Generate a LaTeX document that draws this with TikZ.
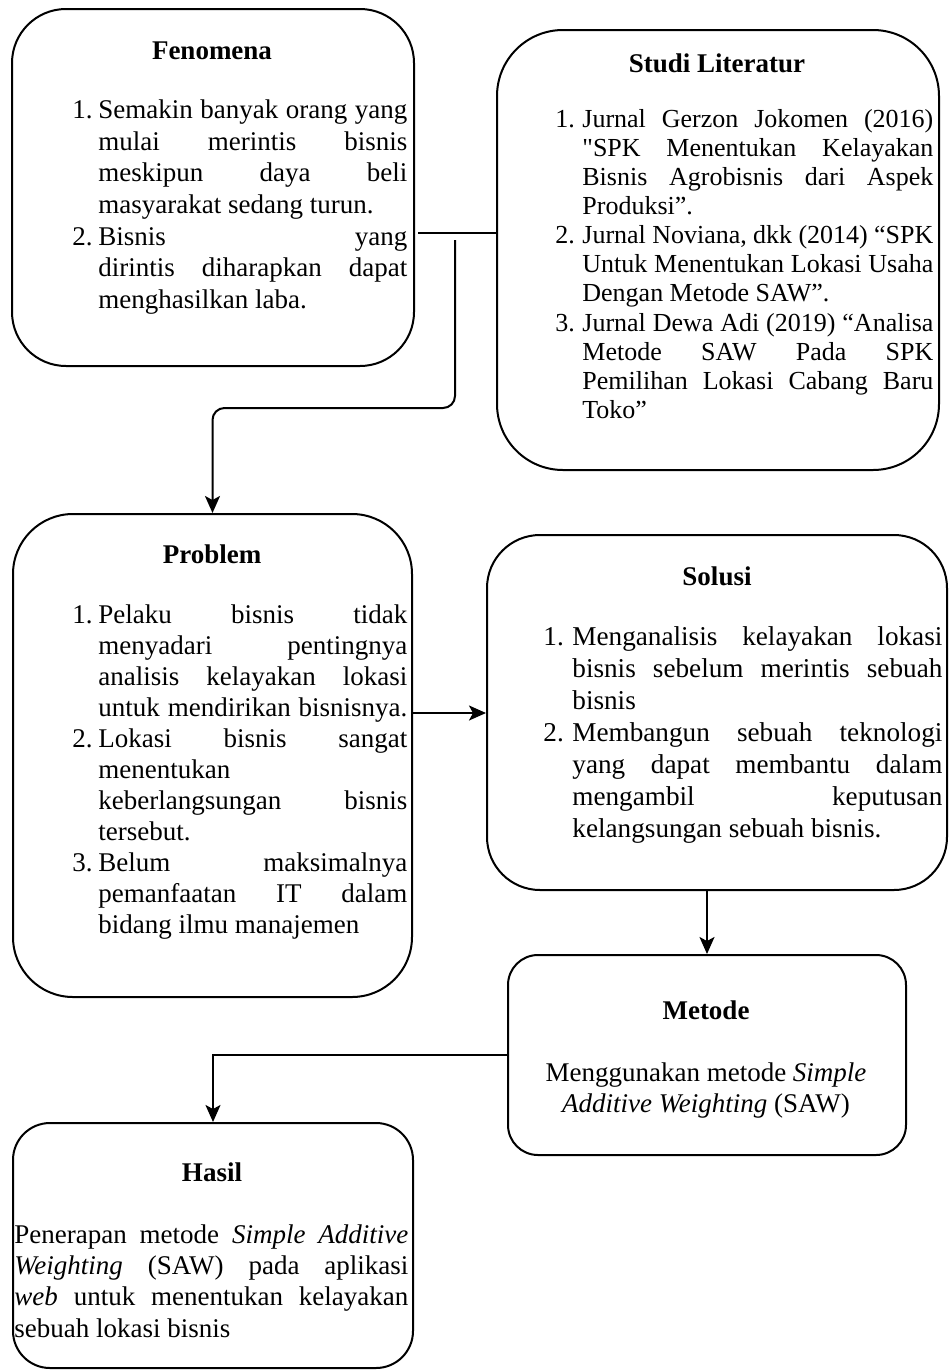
\documentclass[tikz,border=0pt]{standalone}
\usepackage{fontspec}
\setmainfont{Liberation Serif}[Ligatures=TeXOff]
\usetikzlibrary{arrows.meta}
\newlength{\txw}
\newlength{\numw}
\newcommand{\lnJ}[2]{\makebox[\numw][l]{#1}\makebox[\txw][s]{\strut #2}}
\newcommand{\lnC}[1]{\hspace*{\numw}\makebox[\txw][s]{\strut #1}}
\newcommand{\lnE}[1]{\hspace*{\numw}\makebox[\txw][l]{\strut #1}}
\begin{document}
\begin{tikzpicture}[x=0.5pt,y=-0.5pt,
  box/.style={draw, line width=1pt, rectangle, inner sep=0pt},
  ttl/.style={font=\fontsize{13.5}{16}\selectfont\bfseries, anchor=base, inner sep=0pt},
  body/.style={inner sep=0pt, anchor=north west, align=left},
  conn/.style={line width=1pt},
  arr/.style={conn, -{Stealth[length=8.5pt,width=7.5pt,inset=2pt]}}]
\useasboundingbox (0,0) rectangle (949,1371);

% boxes
\node[box, rounded corners=27pt, minimum width=201pt, minimum height=178.5pt] (fen) at (213,187.5) {};
\node[box, rounded corners=33pt, minimum width=221pt, minimum height=220pt] (stu) at (718,250) {};
\node[box, rounded corners=30pt, minimum width=199.5pt, minimum height=241.5pt] (pro) at (212.5,755.5) {};
\node[box, rounded corners=26.5pt, minimum width=230pt, minimum height=177.5pt] (sol) at (717,712.5) {};
\node[box, rounded corners=15pt, minimum width=199pt, minimum height=100pt] (met) at (707,1055) {};
\node[box, rounded corners=18.5pt, minimum width=200pt, minimum height=122.5pt] (has) at (213,1245.5) {};

% titles
\node[ttl] (fent) at (212,59) {Fenomena};
\node[ttl] (stut) at (717,72) {Studi Literatur};
\node[ttl] (prot) at (212,563) {Problem};
\node[ttl] (solt) at (717,585) {Solusi};
\node[ttl] (mett) at (706,1019) {Metode};
\node[ttl] (hast) at (212,1181) {Hasil};

% Fenomena body
\setlength{\txw}{154.5pt}\setlength{\numw}{13pt}
\node[body, font=\fontsize{13.5}{15.83}\selectfont] (fenb) at (72,95.8) {%
\lnJ{1.}{Semakin banyak orang yang}\\
\lnC{mulai merintis bisnis}\\
\lnC{meskipun daya beli}\\
\lnE{masyarakat sedang turun.}\\
\lnJ{2.}{Bisnis yang}\\
\lnC{dirintis diharapkan dapat}\\
\lnE{menghasilkan laba.}};

% Studi Literatur body
\setlength{\txw}{175.5pt}\setlength{\numw}{13.5pt}
\node[body, font=\fontsize{13}{14.55}\selectfont] (stub) at (555,106.6) {%
\lnJ{1.}{Jurnal Gerzon Jokomen (2016)}\\
\lnC{"SPK Menentukan Kelayakan}\\
\lnC{Bisnis Agrobisnis dari Aspek}\\
\lnE{Produksi”.}\\
\lnJ{2.}{Jurnal Noviana, dkk (2014) “SPK}\\
\lnC{Untuk Menentukan Lokasi Usaha}\\
\lnE{Dengan Metode SAW”.}\\
\lnJ{3.}{Jurnal Dewa Adi (2019) “Analisa}\\
\lnC{Metode SAW Pada SPK}\\
\lnC{Pemilihan Lokasi Cabang Baru}\\
\lnE{Toko”}};

% Problem body
\setlength{\txw}{154.5pt}\setlength{\numw}{13pt}
\node[body, font=\fontsize{13.5}{15.5}\selectfont] (prob) at (72,601.3) {%
\lnJ{1.}{Pelaku bisnis tidak}\\
\lnC{menyadari pentingnya}\\
\lnC{analisis kelayakan lokasi}\\
\lnC{untuk mendirikan bisnisnya.}\\
\lnJ{2.}{Lokasi bisnis sangat}\\
\lnE{menentukan}\\
\lnC{keberlangsungan bisnis}\\
\lnE{tersebut.}\\
\lnJ{3.}{Belum maksimalnya}\\
\lnC{pemanfaatan IT dalam}\\
\lnE{bidang ilmu manajemen}};

% Solusi body
\setlength{\txw}{185pt}\setlength{\numw}{14.5pt}
\node[body, font=\fontsize{13.6}{16}\selectfont] (solb) at (543,622.6) {%
\lnJ{1.}{Menganalisis kelayakan lokasi}\\
\lnC{bisnis sebelum merintis sebuah}\\
\lnE{bisnis}\\
\lnJ{2.}{Membangun sebuah teknologi}\\
\lnC{yang dapat membantu dalam}\\
\lnC{mengambil keputusan}\\
\lnE{kelangsungan sebuah bisnis.}};

% Metode body
\node[inner sep=0pt, anchor=north, align=center, font=\fontsize{13.5}{15.5}\selectfont] (metb) at (706,1059.3) {%
\strut Menggunakan metode \textit{Simple}\\
\strut\textit{Additive Weighting} (SAW)};

% Hasil body
\setlength{\txw}{197pt}\setlength{\numw}{0pt}
\node[body, font=\fontsize{13.5}{15.65}\selectfont] (hasb) at (14,1221) {%
\lnC{Penerapan metode \textit{Simple Additive}}\\
\lnC{\textit{Weighting} (SAW) pada aplikasi}\\
\lnC{\textit{web} untuk menentukan kelayakan}\\
\lnE{sebuah lokasi bisnis}};

% connectors
\coordinate (j1) at (418,233);
\draw[conn] (j1) -- (j1 -| stu.west);
\coordinate (j2) at (455,240);
\coordinate (j3) at (212,408);
\draw[arr, rounded corners=6pt] (j2) |- (pro.north |- j3) -- (pro.north);
\coordinate (j4) at (450,713);
\draw[arr] (pro.east |- j4) -- (sol.west |- j4);
\draw[arr] (met.north |- sol.south) -- (met.north);
\draw[arr] (met.west) -| (has.north);
\end{tikzpicture}
\end{document}
